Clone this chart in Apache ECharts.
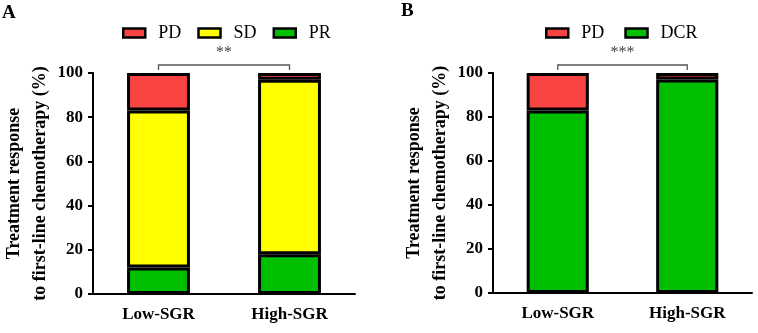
<!DOCTYPE html>
<html>
<head>
<meta charset="utf-8">
<script src="https://cdn.jsdelivr.net/npm/echarts@6/dist/echarts.min.js"></script>
<style>
  html, body { margin: 0; padding: 0; background: #fff; }
  #main { width: 758px; height: 333px; }
</style>
</head>
<body>
<div id="main"></div>
<script>
// data (percent of patients)
var groups = ['Low-SGR', 'High-SGR'];
var yTicks = [0, 20, 40, 60, 80, 100];

// panel A
var prA = [12, 18];
var sdA = [71, 79];
var pdA = [17, 3];
var sigA = '**';

// panel B
var dcrB = [83, 97];
var pdB = [17, 3];
var sigB = '***';

var red = '#FA4343';
var yellow = '#FFFF00';
var green = '#00BF00';
var font = '"Liberation Serif", "Times New Roman", serif';

var chartDom = document.getElementById('main');
var myChart = echarts.init(chartDom);

function yAxis(idx) {
  return {
    type: 'value',
    gridIndex: idx,
    min: yTicks[0],
    max: yTicks[yTicks.length - 1],
    interval: yTicks[1] - yTicks[0],
    name: 'Treatment response\nto first-line chemotherapy (%)',
    nameLocation: 'middle',
    nameGap: 40,
    nameTextStyle: { fontFamily: font, fontWeight: 'bold', fontSize: 18, color: '#000', lineHeight: 26 },
    axisLine: { show: true, lineStyle: { color: '#000', width: 2 } },
    axisTick: { show: true, length: 5, lineStyle: { color: '#000', width: 2 } },
    axisLabel: { fontFamily: font, fontWeight: 'bold', fontSize: 17, color: '#000', margin: 10 },
    splitLine: { show: false }
  };
}

function xAxis(idx) {
  return {
    type: 'category',
    gridIndex: idx,
    data: groups,
    axisLine: { lineStyle: { color: '#000', width: 2 } },
    axisTick: { alignWithLabel: true, length: 6, lineStyle: { color: '#000', width: 2 } },
    axisLabel: { fontFamily: font, fontWeight: 'bold', fontSize: 17, color: '#000', margin: 12 }
  };
}

function bar(name, data, color, idx, stack) {
  return {
    name: name,
    type: 'bar',
    xAxisIndex: idx,
    yAxisIndex: idx,
    stack: stack,
    barWidth: '48%',
    data: data,
    itemStyle: { color: color, borderColor: '#000', borderWidth: 3 }
  };
}

var legendText = { fontFamily: font, fontSize: 18, color: '#000', padding: [0, 0, 0, 8] };
var legendItem = { borderColor: '#000', borderWidth: 2.5 };

var option = {
  animation: false,
  title: [
    { text: 'A', left: -3, top: -1, textStyle: { fontFamily: font, fontWeight: 'bold', fontSize: 19, color: '#000' } },
    { text: 'B', left: 396, top: -3, textStyle: { fontFamily: font, fontWeight: 'bold', fontSize: 19, color: '#000' } }
  ],
  legend: [
    {
      data: ['PD', 'SD', 'PR'],
      left: 117, top: 19,
      icon: 'rect', itemWidth: 22, itemHeight: 9, itemGap: 16,
      textStyle: legendText, itemStyle: legendItem,
      selectedMode: false
    },
    {
      data: ['PD ', 'DCR'],
      left: 540, top: 19,
      icon: 'rect', itemWidth: 22, itemHeight: 9, itemGap: 20,
      textStyle: legendText, itemStyle: legendItem,
      formatter: function (n) { return n.trim(); },
      selectedMode: false
    }
  ],
  grid: [
    { left: 92, right: 403, top: 73, bottom: 39 },
    { left: 493, right: 6, top: 73, bottom: 40 }
  ],
  xAxis: [xAxis(0), xAxis(1)],
  yAxis: [yAxis(0), yAxis(1)],
  series: [
    bar('PR', prA, green, 0, 'a'),
    bar('SD', sdA, yellow, 0, 'a'),
    bar('PD', pdA, red, 0, 'a'),
    bar('DCR', dcrB, green, 1, 'b'),
    bar('PD ', pdB, red, 1, 'b')
  ]
};
option && myChart.setOption(option);

// significance brackets placed through the axes
function bracket(idx, label) {
  var p0 = myChart.convertToPixel({ gridIndex: idx }, [groups[0], 100]);
  var p1 = myChart.convertToPixel({ gridIndex: idx }, [groups[1], 100]);
  var yTop = p0[1] - 8;
  var yLow = p0[1] - 3;
  return [
    {
      type: 'polyline',
      shape: { points: [[p0[0], yLow], [p0[0], yTop], [p1[0], yTop], [p1[0], yLow]] },
      style: { stroke: '#555', lineWidth: 1.3, fill: null }
    },
    {
      type: 'text',
      x: (p0[0] + p1[0]) / 2,
      y: yTop - 4,
      style: { text: label, fill: '#444', font: '16px ' + font, align: 'center', verticalAlign: 'bottom' }
    }
  ];
}
myChart.setOption({ graphic: bracket(0, sigA).concat(bracket(1, sigB)) });
</script>
</body>
</html>
